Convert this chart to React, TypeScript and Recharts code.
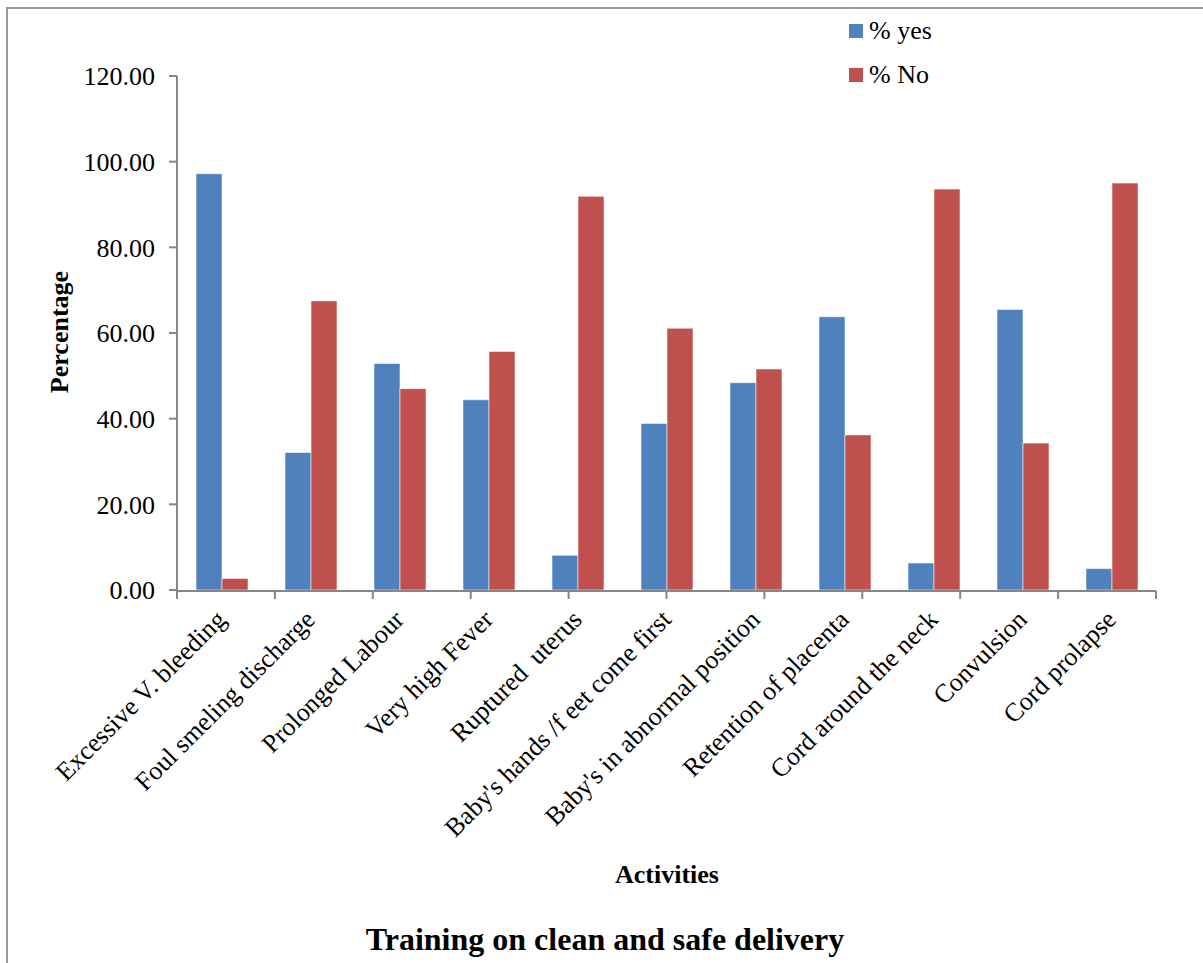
import { Bar, BarChart, Legend, XAxis, YAxis } from "recharts";

const activities = [
  "Excessive V. bleeding",
  "Foul smeling discharge",
  "Prolonged Labour",
  "Very high Fever",
  "Ruptured  uterus",
  "Baby's hands /f eet come first",
  "Baby's in abnormal position",
  "Retention of placenta",
  "Cord around the neck",
  "Convulsion",
  "Cord prolapse",
];
const yesPct = [97.2, 32.1, 52.9, 44.4, 8.1, 38.9, 48.4, 63.8, 6.3, 65.5, 5.0];
const noPct = [2.7, 67.5, 47.0, 55.7, 91.9, 61.1, 51.6, 36.2, 93.6, 34.3, 95.0];
const yTicks = [0, 20, 40, 60, 80, 100, 120];
// category boundaries, where the x-axis tick marks sit
const edgeTicks = [0, 1, 2, 3, 4, 5, 6, 7, 8, 9, 10, 11];
const seriesOrder = ["yes", "no"];

const rows = activities.map((name, i) => ({ name, yes: yesPct[i], no: noPct[i] }));

const SERIF = '"Liberation Serif", "Times New Roman", serif';
const AXIS_GREY = "#868686";
const BLUE = "#4F81BD";
const RED = "#C0504D";

function ActivityTick({ x, y, payload }: any) {
  return (
    <g transform={`translate(${x + 6},${y + 31})`}>
      <text
        transform="rotate(-45)"
        textAnchor="end"
        fontSize={26}
        fontFamily={SERIF}
        fill="#000"
        style={{ whiteSpace: "pre" }}
      >
        {payload.value}
      </text>
    </g>
  );
}

function SeriesLegend({ payload }: any) {
  const items = [...(payload ?? [])].sort(
    (a: any, b: any) => seriesOrder.indexOf(a.dataKey) - seriesOrder.indexOf(b.dataKey)
  );
  return (
    <div style={{ fontFamily: SERIF, fontSize: 26, color: "#000" }}>
      {items.map((entry: any) => (
        <div key={entry.value} style={{ display: "flex", alignItems: "center", height: 44 }}>
          <span style={{ width: 14, height: 14, background: entry.color, marginRight: 6 }} />
          <span style={{ whiteSpace: "pre", fontFamily: SERIF }}>{entry.value}</span>
        </div>
      ))}
    </div>
  );
}

export default function App() {
  return (
    <div
      style={{
        position: "absolute",
        left: 0,
        top: 0,
        width: 1203,
        height: 963,
        overflow: "hidden",
        background: "#fff",
      }}
    >
      <div
        style={{
          position: "absolute",
          left: 6,
          top: 7,
          width: 1300,
          height: 1100,
          border: "2px solid #9a9a9a",
        }}
      />
      <BarChart
        width={1203}
        height={963}
        data={rows}
        margin={{ top: 76, right: 47, bottom: 371, left: 176 }}
        barCategoryGap={19}
        barGap={0}
        style={{ position: "absolute", left: 0, top: 0 }}
      >
        <XAxis
          xAxisId="edge"
          type="number"
          domain={[0, 11]}
          ticks={edgeTicks}
          interval={0}
          height={1}
          axisLine={{ stroke: AXIS_GREY, strokeWidth: 2 }}
          tickSize={8}
          tickLine={{ stroke: AXIS_GREY, strokeWidth: 2 }}
          tick={() => <g />}
        />
        <XAxis
          xAxisId="cat"
          dataKey="name"
          height={1}
          interval={0}
          tickSize={0}
          tickMargin={0}
          tickLine={false}
          axisLine={false}
          tick={<ActivityTick />}
        />
        <YAxis
          width={1}
          domain={[0, 120]}
          ticks={yTicks}
          interval={0}
          tickSize={8}
          tickMargin={14}
          tickFormatter={(v: number) => v.toFixed(2)}
          tick={{ fontSize: 26, fill: "#000", fontFamily: SERIF }}
          tickLine={{ stroke: AXIS_GREY, strokeWidth: 2 }}
          axisLine={{ stroke: AXIS_GREY, strokeWidth: 2 }}
        />
        <Legend
          layout="vertical"
          align="center"
          verticalAlign="middle"
          content={<SeriesLegend />}
          wrapperStyle={{ top: 9, left: 849, width: 200, bottom: "auto" }}
        />
        <Bar
          xAxisId="cat"
          dataKey="yes"
          name="% yes"
          fill={BLUE}
          stroke="rgba(255,255,255,0.55)"
          strokeWidth={1}
          isAnimationActive={false}
        />
        <Bar
          xAxisId="cat"
          dataKey="no"
          name="% No"
          fill={RED}
          stroke="rgba(255,255,255,0.55)"
          strokeWidth={1}
          isAnimationActive={false}
        />
      </BarChart>
      <svg
        width={1203}
        height={963}
        style={{ position: "absolute", left: 0, top: 0, pointerEvents: "none" }}
        fontFamily={SERIF}
        fontWeight="bold"
      >
        <text x={68} y={332} fontSize={26} textAnchor="middle" transform="rotate(-90, 68, 332)">
          Percentage
        </text>
        <text x={667} y={883} fontSize={26} textAnchor="middle">
          Activities
        </text>
        <text x={605} y={950} fontSize={32} textAnchor="middle">
          Training on clean and safe delivery
        </text>
      </svg>
    </div>
  );
}
